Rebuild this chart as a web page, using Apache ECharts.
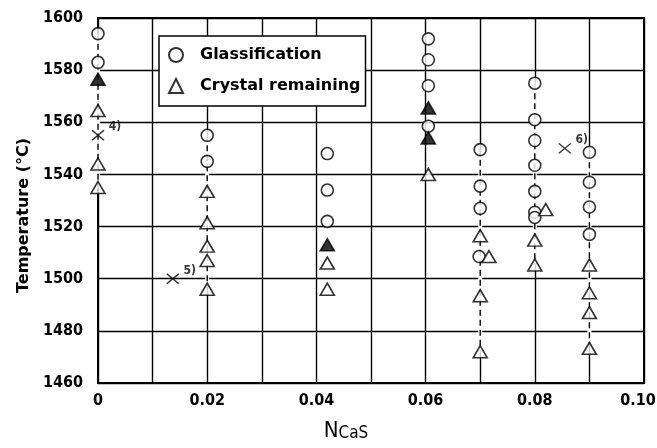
<!DOCTYPE html>
<html>
<head>
<meta charset="utf-8">
<script src="https://cdn.jsdelivr.net/npm/echarts@6/dist/echarts.min.js"></script>
<style>html,body{margin:0;padding:0;background:#fff}#c{width:657px;height:448px}</style>
</head>
<body>
<div id="c"></div>
<script>
// ---- data (N_CaS, Temperature °C) ----
const glassification = [
  [0, 1594], [0, 1583],
  [0.02, 1555], [0.02, 1545],
  [0.042, 1548], [0.042, 1534], [0.042, 1522],
  [0.0605, 1592], [0.0605, 1584], [0.0605, 1574], [0.0605, 1558.5],
  [0.07, 1549.5], [0.07, 1535.5], [0.07, 1527], [0.0698, 1508.5],
  [0.08, 1575], [0.08, 1561], [0.08, 1553], [0.08, 1543.5], [0.08, 1533.5], [0.08, 1525.5], [0.08, 1523.5],
  [0.09, 1548.5], [0.09, 1537], [0.09, 1527.5], [0.09, 1517]
];
const crystalRemaining = [
  [0, 1564.5], [0, 1544], [0, 1535],
  [0.02, 1533.5], [0.02, 1521.5], [0.02, 1512.5], [0.02, 1507], [0.02, 1496],
  [0.042, 1506], [0.042, 1496],
  [0.0605, 1540],
  [0.07, 1516.5], [0.0716, 1508.5], [0.07, 1493.5], [0.07, 1472],
  [0.082, 1526.5], [0.08, 1514.8], [0.08, 1505.3],
  [0.09, 1505.3], [0.09, 1494.6], [0.09, 1487], [0.09, 1473.3]
];
const crystalOverlap = [
  [0, 1576.5], [0.042, 1513], [0.0605, 1565.5], [0.0605, 1554]
];
const refPoints = [
  [0, 1555, '4)'], [0.0137, 1500, '5)'], [0.0855, 1550, '6)']
];
const columnX = [0, 0.02, 0.07, 0.08, 0.09];
const xTicks = [0, 0.02, 0.04, 0.06, 0.08, 0.10];
const xTickLabels = ['0', '0.02', '0.04', '0.06', '0.08', '0.10'];
const yMin = 1460, yMax = 1600, yStep = 20;

// dashed connector segments per sampled column (derived from the data)
const allPts = glassification.concat(crystalRemaining, crystalOverlap);
const columnSegments = columnX.map(cx => {
  const ts = allPts.filter(p => Math.abs(p[0] - cx) < 0.0005).map(p => p[1]);
  return [[cx, Math.max(...ts)], [cx, Math.min(...ts)]];
});

const FONT = "'DejaVu Sans Condensed','DejaVu Sans',sans-serif";
const chart = echarts.init(document.getElementById('c'), null, {renderer: 'canvas'});

const series = [];
columnSegments.forEach((seg, i) => {
  series.push({
    type: 'line', data: seg, symbol: 'none', silent: true, z: 2,
    lineStyle: {color: '#fff', width: 4}
  });
  series.push({
    type: 'line', data: seg, symbol: 'none', silent: true, z: 3,
    lineStyle: {color: '#000', width: 1.4, type: [6, 4]}
  });
});
series.push({
  name: 'Glassification', type: 'scatter', data: glassification, z: 5,
  symbol: 'circle', symbolSize: 12,
  itemStyle: {color: '#fff', borderColor: '#000', borderWidth: 1.6}
});
series.push({
  name: 'Crystal remaining', type: 'scatter', data: crystalRemaining, z: 6,
  symbol: 'triangle', symbolSize: [14, 12],
  itemStyle: {color: '#fff', borderColor: '#000', borderWidth: 1.6}
});
series.push({
  name: 'overlap', type: 'scatter', data: crystalOverlap, z: 7,
  symbol: 'triangle', symbolSize: [14, 12],
  itemStyle: {color: '#000', borderColor: '#000', borderWidth: 1.6}
});
series.push({
  name: 'ref', type: 'scatter', z: 7,
  data: refPoints.map(p => ({value: [p[0], p[1]], label: {formatter: p[2]}})),
  symbol: 'path://M0,0L10,10M10,0L0,10', symbolSize: [12, 10],
  itemStyle: {color: 'none', borderColor: '#000', borderWidth: 1.4},
  label: {show: true, position: 'right', offset: [-3, -8], color: '#000',
          fontFamily: FONT, fontWeight: 'bold', fontSize: 12}
});

chart.setOption({
  animation: false,
  backgroundColor: '#fff',
  grid: {left: 98, right: 13, top: 18, bottom: 65, show: true, borderColor: '#000', borderWidth: 2,
         outerBoundsMode: 'none', containLabel: false},
  legend: {
    data: ['Glassification', 'Crystal remaining'],
    orient: 'vertical', left: 159, top: 36,
    backgroundColor: '#fff', borderColor: '#000', borderWidth: 1.5, borderRadius: 0,
    padding: [11, 5, 12, 9],
    itemWidth: 14, itemHeight: 14, itemGap: 15,
    textStyle: {fontFamily: "'DejaVu Sans',sans-serif", fontWeight: 'bold', fontSize: 16, color: '#000', padding: [0, 0, 0, 12]}
  },
  xAxis: {
    type: 'value', min: 0, max: 0.1, interval: 0.01,
    name: '{n|N}{s|CaS}', nameLocation: 'middle', nameGap: 34,
    nameTextStyle: {padding: [0, 50, 0, 0],
      rich: {n: {fontFamily: FONT, fontSize: 22, color: '#000', verticalAlign: 'bottom'},
             s: {fontFamily: FONT, fontSize: 17, color: '#000', verticalAlign: 'top', padding: [8, 0, 0, 0]}}},
    axisLine: {show: true, lineStyle: {color: '#000', width: 2}},
    axisTick: {show: false},
    axisLabel: {color: '#000', fontFamily: FONT, fontWeight: 'bold', fontSize: 16, margin: 10,
      formatter: v => {
        const i = xTicks.findIndex(t => Math.abs(t - v) < 1e-9);
        if (i < 0) return '';
        return i === xTicks.length - 1 ? '{last|' + xTickLabels[i] + '}' : xTickLabels[i];
      },
      rich: {last: {fontFamily: FONT, fontWeight: 'bold', fontSize: 16, color: '#000', padding: [0, 12, 0, 0]}}},
    splitLine: {show: true, lineStyle: {color: '#000', width: 1.4}}
  },
  yAxis: {
    type: 'value', min: yMin, max: yMax, interval: yStep,
    name: 'Temperature (°C)', nameLocation: 'middle', nameGap: 66, nameRotate: 90,
    nameTextStyle: {fontFamily: "'DejaVu Sans',sans-serif", fontWeight: 'bold', fontSize: 16, color: '#000', padding: [0, 30, 0, 0]},
    axisLine: {show: true, lineStyle: {color: '#000', width: 2}},
    axisTick: {show: false},
    axisLabel: {color: '#000', fontFamily: FONT, fontWeight: 'bold', fontSize: 16, margin: 15,
      formatter: v => String(v)},
    splitLine: {show: true, lineStyle: {color: '#000', width: 1.4}}
  },
  series: series
});
</script>
</body>
</html>
